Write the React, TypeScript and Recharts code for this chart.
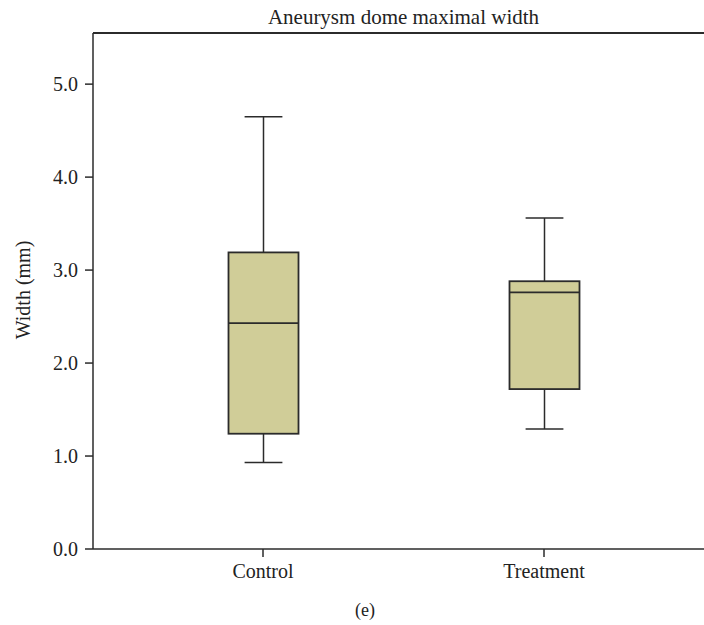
import {
  ComposedChart,
  Bar,
  XAxis,
  YAxis,
  ReferenceLine,
} from 'recharts';

const categories = ['Control', 'Treatment'];
const minValues = [0.93, 1.29];
const q1Values = [1.24, 1.72];
const medianValues = [2.43, 2.76];
const q3Values = [3.19, 2.88];
const maxValues = [4.65, 3.56];
const yTicks = [0, 1, 2, 3, 4, 5];
const yMax = 5.55;

const data = categories.map((name, i) => ({
  name,
  min: minValues[i],
  q1: q1Values[i],
  median: medianValues[i],
  q3: q3Values[i],
  max: maxValues[i],
  base: q1Values[i],
  box: q3Values[i] - q1Values[i],
}));

const ink = '#2b2b2b';
const serif = '"Liberation Serif", "Times New Roman", serif';

// box + median + whiskers, scaled off the bar's own pixel height
function BoxShape(props: any) {
  const { x, y, width, height, payload } = props;
  if (!payload || height <= 0) return null;
  const pxPerUnit = height / (payload.q3 - payload.q1);
  const cx = x + width / 2;
  const cap = width * 0.27;
  const medY = y + (payload.q3 - payload.median) * pxPerUnit;
  const topY = y - (payload.max - payload.q3) * pxPerUnit;
  const botY = y + height + (payload.q1 - payload.min) * pxPerUnit;
  return (
    <g>
      <line x1={cx} x2={cx} y1={topY} y2={y} stroke={ink} strokeWidth={1.5} />
      <line x1={cx - cap} x2={cx + cap} y1={topY} y2={topY} stroke={ink} strokeWidth={1.5} />
      <line x1={cx} x2={cx} y1={y + height} y2={botY} stroke={ink} strokeWidth={1.5} />
      <line x1={cx - cap} x2={cx + cap} y1={botY} y2={botY} stroke={ink} strokeWidth={1.5} />
      <rect x={x} y={y} width={width} height={height} fill="#d0cd98" stroke={ink} strokeWidth={1.8} />
      <line x1={x} x2={x + width} y1={medY} y2={medY} stroke={ink} strokeWidth={1.8} />
    </g>
  );
}

export default function App() {
  return (
    <div
      style={{
        position: 'absolute',
        left: 0,
        top: 0,
        width: 704,
        height: 625,
        overflow: 'hidden',
        background: '#fff',
        fontFamily: serif,
        color: '#222',
      }}
    >
      {/* title sits centred over the plot area (x 93..714) */}
      <div
        style={{
          position: 'absolute',
          left: 93,
          width: 621,
          top: 5,
          textAlign: 'center',
          fontSize: 21,
          lineHeight: 'normal',
          whiteSpace: 'nowrap',
        }}
      >
        Aneurysm dome maximal width
      </div>
      <ComposedChart
        width={730}
        height={625}
        data={data}
        margin={{ top: 33, right: 16, bottom: 36, left: 0 }}
      >
        <XAxis
          dataKey="name"
          height={40}
          padding={{ left: 29.5, right: 29.5 }}
          stroke={ink}
          strokeWidth={1.5}
          tickSize={8}
          tickMargin={7}
          tick={{ fontSize: 20, fill: '#222', fontFamily: serif }}
        />
        <YAxis
          width={93}
          domain={[0, yMax]}
          ticks={yTicks}
          allowDataOverflow
          stroke={ink}
          strokeWidth={1.5}
          tickSize={8}
          tickMargin={7}
          tick={{ fontSize: 20, fill: '#222', fontFamily: serif }}
          tickFormatter={(v: number) => v.toFixed(1)}
          label={{
            content: () => (
              <text
                x={23}
                y={290}
                transform="rotate(-90, 23, 290)"
                textAnchor="middle"
                dominantBaseline="central"
                fontSize={20}
                fontFamily={serif}
                fill="#222"
              >
                Width (mm)
              </text>
            ),
          }}
        />
        <ReferenceLine y={yMax} stroke={ink} strokeWidth={2} />
        <Bar dataKey="base" stackId="box" fill="transparent" barSize={70} isAnimationActive={false} />
        <Bar dataKey="box" stackId="box" barSize={70} shape={BoxShape} isAnimationActive={false} />
      </ComposedChart>
      <div
        style={{
          position: 'absolute',
          left: 265,
          width: 200,
          top: 600,
          textAlign: 'center',
          fontSize: 18,
          lineHeight: 'normal',
        }}
      >
        (e)
      </div>
    </div>
  );
}
